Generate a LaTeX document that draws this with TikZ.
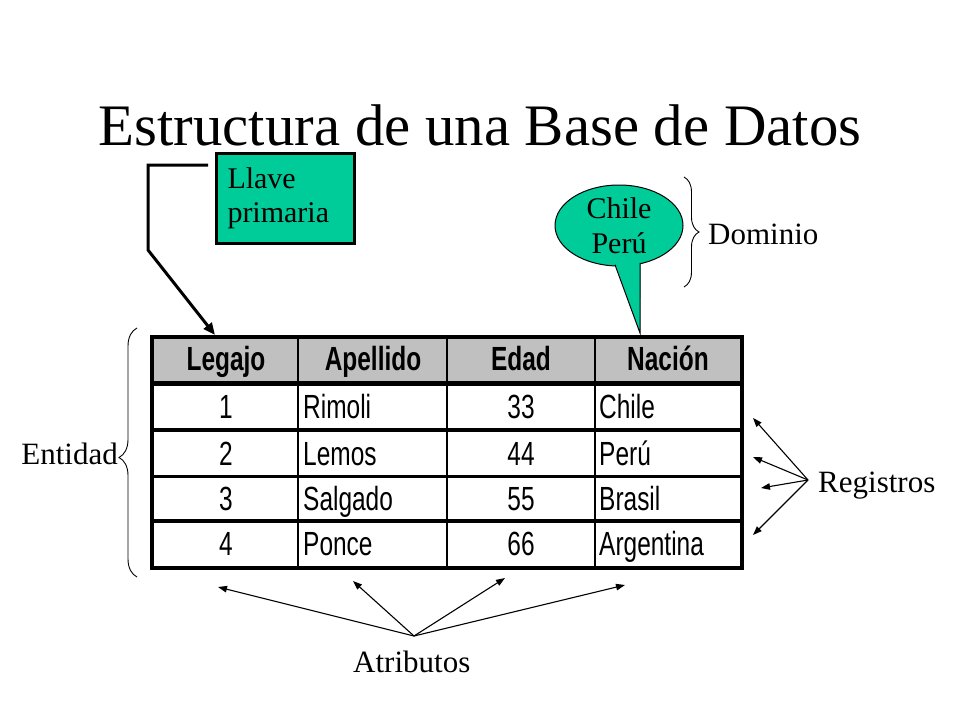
\documentclass[tikz,border=0pt]{standalone}
\usepackage{fontspec}
\setmainfont{Liberation Serif}
\newfontfamily\tabfont[FakeStretch=0.73]{Liberation Sans}
\usetikzlibrary{arrows.meta,shapes.geometric,decorations.pathreplacing}
\definecolor{callgreen}{RGB}{0,204,153}
\definecolor{hdrgray}{RGB}{192,192,192}
\tikzset{
  lbl/.style={font=\fontsize{31}{35}\selectfont, inner sep=0},
  hdr/.style={font=\tabfont\bfseries\fontsize{33.5}{36}\selectfont, inner sep=0, anchor=base},
  cellc/.style={font=\tabfont\fontsize{33.5}{36}\selectfont, inner sep=0, anchor=base},
  celll/.style={cellc, anchor=base west},
  thinarrow/.style={line width=1.1pt, -{Triangle[length=9pt,width=6.5pt]}},
  thickarrow/.style={line width=3pt, line join=miter, -{Triangle[length=12pt,width=10pt]}},
  brc/.style={decorate, decoration={brace, amplitude=#1}, line width=0.9pt},
  hline/.style={line width=3.5pt},
  vline/.style={line width=2.5pt},
}
\begin{document}
\begin{tikzpicture}[x=1pt,y=-1pt]
\useasboundingbox (0,0) rectangle (960,720);
\fill[white] (0,0) rectangle (960,720);

% title
\node[font=\fontsize{58.8}{64}\selectfont, inner sep=0, anchor=base] (title) at (480,145) {Estructura de una Base de Datos};

% table
\fill[hdrgray] (152,337) rectangle (742,383);
\draw[line width=5pt] (152,383.5) -- (742,383.5);
\draw[hline] (152,430) -- (742,430);
\draw[hline] (152,476.5) -- (742,476.5);
\draw[hline] (152,521) -- (742,521);
\draw[vline] (298,337) -- (298,568);
\draw[vline] (447,337) -- (447,568);
\draw[vline] (595,337) -- (595,568);
\node[draw, line width=4pt, minimum width=590pt, minimum height=231pt, inner sep=0] (tbl) at (447,452.5) {};

\node[hdr] (h1) at (226,370) {Legajo};
\node[hdr] (h2) at (373,370) {Apellido};
\node[hdr] (h3) at (521,370) {Edad};
\node[hdr] (h4) at (668,370) {Nación};

\node[cellc] (a1) at (226,418) {1};
\node[celll] (b1) at (303,418) {Rimoli};
\node[cellc] (c1) at (521,418) {33};
\node[celll] (d1) at (599,418) {Chile};
\node[cellc] (a2) at (226,465) {2};
\node[celll] (b2) at (303,465) {Lemos};
\node[cellc] (c2) at (521,465) {44};
\node[celll] (d2) at (599,465) {Perú};
\node[cellc] (a3) at (226,510) {3};
\node[celll] (b3) at (303,510) {Salgado};
\node[cellc] (c3) at (521,510) {55};
\node[celll] (d3) at (599,510) {Brasil};
\node[cellc] (a4) at (226,555) {4};
\node[celll] (b4) at (303,555) {Ponce};
\node[cellc] (c4) at (521,555) {66};
\node[celll] (d4) at (599,555) {Argentina};

% Llave primaria
\node[draw, line width=3pt, fill=callgreen, minimum width=138pt, minimum height=90pt,
      text width=115pt, align=left, inner sep=0, font=\fontsize{30}{34}\selectfont] (lp) at (285,198) {Llave\\primaria};
\coordinate (lpstart) at (208,165);
\coordinate (lptip) at (215,335);
\draw[thickarrow] (lpstart) -- (148,165) -- (148,250) -- (lptip);

% callout Dominio
\node[ellipse, draw, fill=callgreen, line width=1pt, minimum width=128pt, minimum height=81pt,
      inner sep=0, align=center, font=\fontsize{30}{35}\selectfont] (cv) at (619,225.5) {Chile\\Perú};
\coordinate (cvtip) at (640,333);
\fill[callgreen] (614.5,262) -- (640.5,260) -- (cvtip) -- cycle;
\draw[line width=1pt, line join=miter] (615,264.8) -- (cvtip) -- (640,262.8);

\coordinate (dtop) at (684,177);
\coordinate (dbot) at (684,287);
\draw[brc=15pt] (dtop) -- (dbot);
\node[lbl, anchor=base west] (dom) at (708,244) {Dominio};

% Entidad
\coordinate (etop) at (137,328);
\coordinate (ebot) at (137,577);
\draw[brc=18pt, decoration={aspect=0.48}] (ebot) -- (etop);
\node[lbl, anchor=base east] (ent) at (118,464) {Entidad};

% Registros
\node[lbl, anchor=base west] (reg) at (818,492) {Registros};
\coordinate (rg) at (808,480);
\coordinate (r1) at (753,418);
\coordinate (r2) at (753,457);
\coordinate (r3) at (761,488);
\coordinate (r4) at (753,535);
\foreach \t in {r1,r2,r3,r4} \draw[thinarrow] (rg) -- (\t);

% Atributos
\node[lbl, anchor=base west] (atr) at (353,672) {Atributos};
\coordinate (at) at (414,636);
\coordinate (t1) at (218,587);
\coordinate (t2) at (353,581);
\coordinate (t3) at (505,578);
\coordinate (t4) at (625,585);
\foreach \t in {t1,t2,t3,t4} \draw[thinarrow] (at) -- (\t);
\end{tikzpicture}
\end{document}
